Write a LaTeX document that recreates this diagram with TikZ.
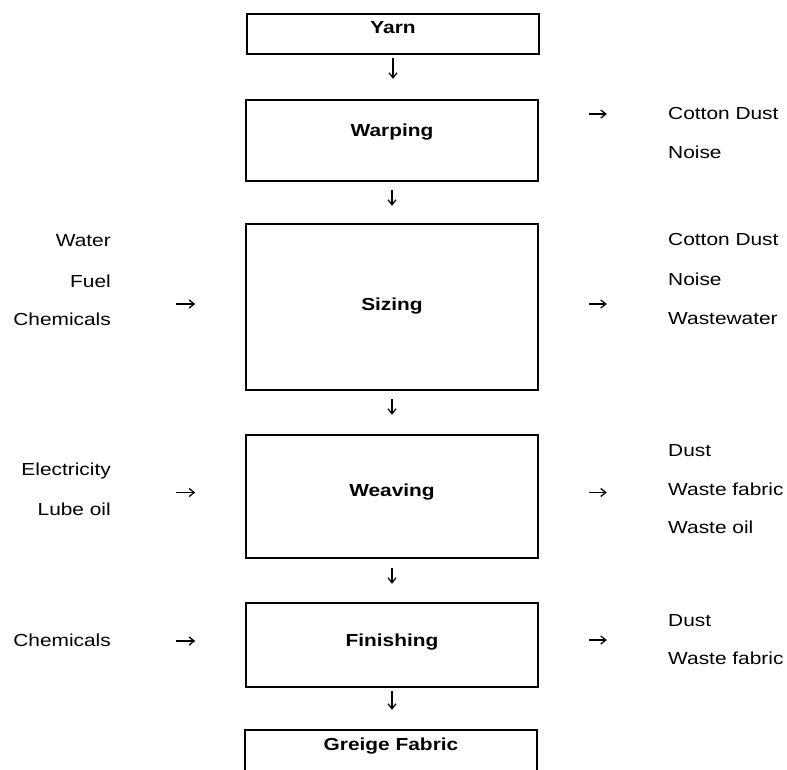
\documentclass[tikz,border=0pt]{standalone}
\usepackage{fontspec}
\setmainfont{Liberation Sans}[FakeStretch=1.2]
\usetikzlibrary{arrows.meta,calc}

\tikzset{
  stagebox/.style={draw, line width=1.6pt, minimum width=292pt, inner sep=0pt},
  stagename/.style={font=\fontsize{17.4}{20}\selectfont\bfseries, inner sep=0pt, anchor=base},
  outitem/.style={font=\fontsize{17.4}{20}\selectfont, inner sep=0pt, anchor=base west},
  initem/.style={font=\fontsize{17.4}{20}\selectfont, inner sep=0pt, anchor=base east},
  flow/.style={line width=1.2pt, -{Straight Barb[length=5pt,width=8pt,line width=1.3pt]}},
}

\begin{document}
\begin{tikzpicture}[x=1pt,y=-1pt]%[show background grid]
\useasboundingbox (0,0) rectangle (787,770);
\clip (0,0) rectangle (787,770);

% process stages
\node[stagebox, minimum height=40pt]  (yarn)      at (393,34)  {};
\node[stagebox, minimum height=81pt]  (warping)   at (392,140.5) {};
\node[stagebox, minimum height=166pt] (sizing)    at (392,307) {};
\node[stagebox, minimum height=123pt] (weaving)   at (392,496.5) {};
\node[stagebox, minimum height=84pt]  (finishing) at (392,645) {};
\node[stagebox, minimum height=70pt]  (greige)    at (391,765) {};

\node[stagename] (yarnlbl)      at (393,34)  {Yarn};
\node[stagename] (warpinglbl)   at (392,137) {Warping};
\node[stagename] (sizinglbl)    at (392,310) {Sizing};
\node[stagename] (weavinglbl)   at (392,496) {Weaving};
\node[stagename] (finishinglbl) at (392,646) {Finishing};
\node[stagename] (greigelbl)    at (391,750) {Greige Fabric};

% inputs
\node[initem] (water)    at (111,247) {Water};
\node[initem] (fuel)     at (111,287) {Fuel};
\node[initem] (chemsz)   at (111,325) {Chemicals};
\node[initem] (electric) at (111,475) {Electricity};
\node[initem] (lubeoil)  at (111,515) {Lube oil};
\node[initem] (chemfn)   at (111,646) {Chemicals};

% outputs
\node[outitem] (wpdust)   at (668,120) {Cotton Dust};
\node[outitem] (wpnoise)  at (668,159) {Noise};
\node[outitem] (szdust)   at (668,245) {Cotton Dust};
\node[outitem] (sznoise)  at (668,285) {Noise};
\node[outitem] (szwater)  at (668,324) {Wastewater};
\node[outitem] (wvdust)   at (668,456) {Dust};
\node[outitem] (wvfabric) at (668,495) {Waste fabric};
\node[outitem] (wvoil)    at (668,533) {Waste oil};
\node[outitem] (fndust)   at (668,626) {Dust};
\node[outitem] (fnfabric) at (668,664) {Waste fabric};

% flow down
\draw[flow] ($(yarn.south)+(0,3)$) -- ++(0,21);
\draw[flow] ($(warping.south)+(0,8)$) -- ++(0,16);
\draw[flow] ($(sizing.south)+(0,8)$) -- ++(0,16);
\draw[flow] ($(weaving.south)+(0,9)$) -- ++(0,16);
\draw[flow] ($(finishing.south)+(0,3)$) -- ++(0,19);

% inputs and outputs
\draw[flow] ($(warping.east |- wpdust.center)+(50,0)$) -- ++(18,0);
\draw[flow] ($(sizing.west)+(-69,-3)$) -- ++(19,0);
\draw[flow] ($(sizing.east)+(50,-3)$) -- ++(18,0);
\draw[flow] ($(weaving.west)+(-69,-4)$) -- ++(19,0);
\draw[flow] ($(weaving.east)+(50,-4)$) -- ++(18,0);
\draw[flow] ($(finishing.west)+(-69,-4)$) -- ++(19,0);
\draw[flow] ($(finishing.east)+(50,-5)$) -- ++(18,0);

\end{tikzpicture}
\end{document}
